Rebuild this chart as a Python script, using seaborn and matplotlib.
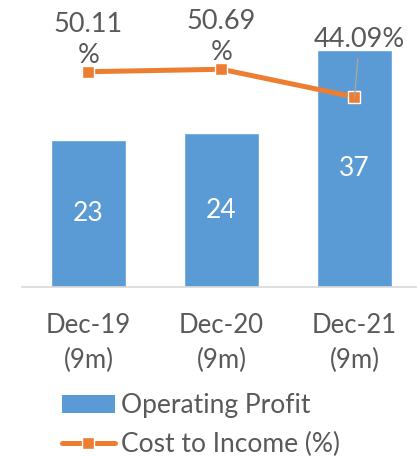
import matplotlib
matplotlib.use("Agg")
import matplotlib.pyplot as plt
import seaborn as sns
import pandas as pd
from matplotlib.patches import Patch
from matplotlib.lines import Line2D

categories = ["Dec-19\n(9m)", "Dec-20\n(9m)", "Dec-21\n(9m)"]
operating_profit = [23, 24, 37]
cost_to_income = [50.11, 50.69, 44.09]
ratio_labels = ["50.11\n%", "50.69\n%", "44.09%"]

BAR = "#5B9BD5"
LINE = "#ED7D31"
TXT = "#595959"

sns.set_theme(style="white")
plt.rcParams["font.family"] = ["Lato", "DejaVu Sans"]

fig = plt.figure(figsize=(4.17, 4.59), dpi=100)
W, H = 417, 459
ax = fig.add_axes([22 / W, 1 - 287 / H, 1 - 22 / W, 287 / H])

df = pd.DataFrame({"cat": categories, "op": operating_profit, "cti": cost_to_income})
sns.barplot(data=df, x="cat", y="op", ax=ax, color=BAR, saturation=1, width=0.565, order=categories)
ax.set_xlim(-0.5, 2.47)
ax.set_ylim(0, 44.8)
for c in ax.containers:
    ax.bar_label(c, labels=[str(v) for v in operating_profit], label_type="center",
                 color="white", fontsize=19)

ax.set_xlabel("")
ax.set_ylabel("")
ax.set_yticks([])
ax.tick_params(axis="x", length=0, pad=19, labelsize=18.5, labelcolor=TXT)
for lab in ax.get_xticklabels():
    lab.set_linespacing(1.45)
for s in ["left", "right", "top"]:
    ax.spines[s].set_visible(False)
ax.spines["bottom"].set_color("#D9D9D9")
ax.spines["bottom"].set_linewidth(1.2)

ax2 = ax.twinx()
xpos = list(range(len(categories)))
sns.lineplot(x=xpos, y=cost_to_income, ax=ax2, color=LINE, linewidth=3.6,
             marker="s", markersize=9, markeredgecolor="white", markeredgewidth=1)
ax2.set_ylim(-1.2, 67.2)
ax2.set_yticks([])
ax2.set_ylabel("")
for s in ax2.spines.values():
    s.set_visible(False)

for i, (v, lab) in enumerate(zip(cost_to_income, ratio_labels)):
    if "\n" in lab:
        ax2.annotate(lab, xy=(i, v), xytext=(0, 32), textcoords="offset pixels",
                     ha="center", va="center", fontsize=19.5, color=TXT, linespacing=1.3)
    else:
        ax2.annotate(lab, xy=(i, v), xytext=(5, 57), textcoords="offset pixels",
                     ha="center", va="center", fontsize=19.5, color=TXT,
                     arrowprops=dict(arrowstyle="-", color="#A6A6A6", lw=1,
                                     shrinkA=2, shrinkB=0))

handles = [Patch(facecolor=BAR, edgecolor="none", label="Operating Profit"),
           Line2D([0], [0], color=LINE, lw=3.6, marker="s", markersize=9,
                  markeredgecolor="white", markeredgewidth=1, label="Cost to Income (%)")]
leg = fig.legend(handles=handles, loc="upper left", bbox_to_anchor=(62 / W, 1 - 393 / H),
                 frameon=False, fontsize=19, handlelength=2.0, handleheight=0.65,
                 handletextpad=0.25, labelspacing=0.52, borderpad=0, borderaxespad=0)
for t in leg.get_texts():
    t.set_color(TXT)

fig.savefig("out.png", dpi=100)
